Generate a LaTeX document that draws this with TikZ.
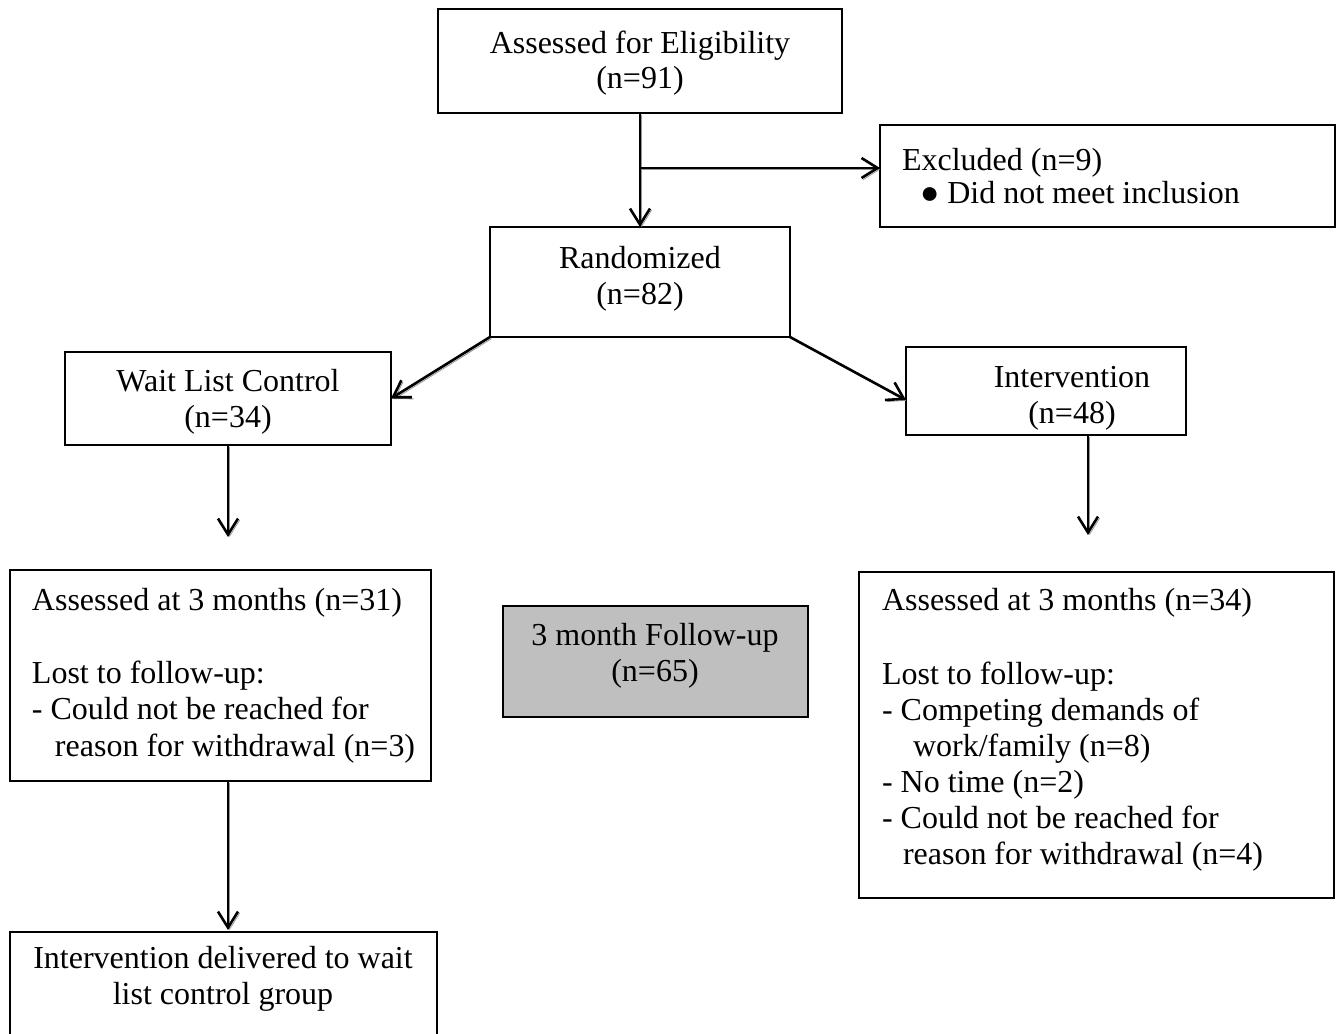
\documentclass[tikz,border=0pt]{standalone}
\usepackage{fontspec}
\setmainfont{Liberation Serif}
\usetikzlibrary{arrows.meta,calc}
\definecolor{boxgrey}{RGB}{191,191,191}
\definecolor{shadowgrey}{RGB}{150,150,150}
\begin{document}
\begin{tikzpicture}[x=0.5pt,y=-0.5pt,
  every node/.style={font=\fontsize{16}{18}\selectfont},
  box/.style={draw=black,line width=1pt,inner sep=0pt,outer sep=0pt},
  txt/.style={inner sep=0pt,outer sep=0pt,anchor=north,align=center},
  ltxt/.style={inner sep=0pt,outer sep=0pt,anchor=north west,align=left},
  flow/.style={line width=1.3pt,-{Straight Barb[length=8pt,width=10pt,line width=1.3pt]},
    preaction={draw=shadowgrey,transform canvas={shift={(0.8pt,-0.8pt)}}}}]
\useasboundingbox (0,0) rectangle (1341,1034);
\clip (0,0) rectangle (1341,1034);
% boxes
\node[box,minimum width=202pt,minimum height=52pt] (elig) at (640,61) {};
\node[box,minimum width=227.5pt,minimum height=51pt] (excl) at (1107.5,176) {};
\node[box,minimum width=150pt,minimum height=55pt] (rand) at (640,282) {};
\node[box,minimum width=163pt,minimum height=46.5pt] (wait) at (228,398.5) {};
\node[box,minimum width=140pt,minimum height=44pt] (intv) at (1046,391) {};
\node[box,minimum width=210.5pt,minimum height=105.5pt] (assL) at (220.5,675.5) {};
\node[box,fill=boxgrey,minimum width=152.5pt,minimum height=55.5pt] (fup) at (655.5,661.5) {};
\node[box,minimum width=237.5pt,minimum height=163pt] (assR) at (1096.5,735) {};
\node[box,minimum width=213.5pt,minimum height=64pt] (deliv) at (223.5,996) {};
% texts
\node[txt] (t-elig) at (640,28) {\strut Assessed for Eligibility\\[-0.5pt](n=91)};
\node[ltxt] (t-excl) at (902,145) {\strut Excluded (n=9)\\[-1.5pt]\hspace*{9pt}● Did not meet inclusion};
\node[txt] (t-rand) at (640,243) {\strut Randomized\\(n=82)};
\node[txt] (t-wait) at (228,366) {\strut Wait List Control\\(n=34)};
\node[txt] (t-intv) at (1072,362) {\strut Intervention\\(n=48)};
\node[ltxt] (t-assL) at (32,585) {\strut Assessed at 3 months (n=31)\\[18.5pt]Lost to follow-up:\\[0.3pt]- Could not be reached for\\[0.3pt]\hspace*{11.5pt}reason for withdrawal (n=3)};
\node[txt] (t-fup) at (655,620) {\strut 3 month Follow-up\\(n=65)};
\node[ltxt] (t-assR) at (882,585) {\strut Assessed at 3 months (n=34)\\[19pt]Lost to follow-up:\\- Competing demands of\\\hspace*{15.5pt}work/family (n=8)\\- No time (n=2)\\- Could not be reached for\\\hspace*{10.5pt}reason for withdrawal (n=4)};
\node[txt] (t-deliv) at (223,943) {\strut Intervention delivered to wait\\list control group};
% connector coordinates
\coordinate (br) at (640,168);
\coordinate (waitend) at (228,537);
\coordinate (intvend) at (1088,535);
% connectors
\draw[flow] (elig.south) -- (rand.north);
\draw[flow] (br) -- (br -| excl.west);
\draw[flow] (rand.south west) -- (wait.east);
\draw[flow] (rand.south east) -- ([yshift=-4.5pt]intv.west);
\draw[flow] (wait.south) -- (waitend);
\draw[flow] (intvend |- intv.south) -- (intvend);
\draw[flow] (assL.south -| wait.south) -- ([yshift=1pt]deliv.north -| wait.south);
\end{tikzpicture}
\end{document}
